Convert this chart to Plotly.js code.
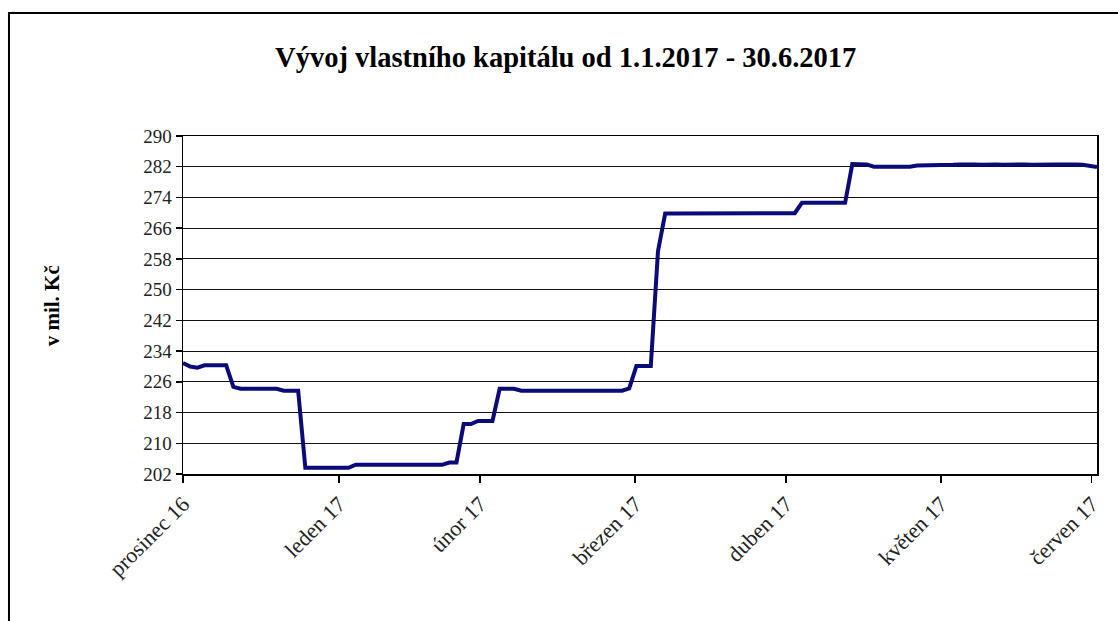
<!DOCTYPE html>
<html>
<head>
<meta charset="utf-8">
<script src="https://cdn.plot.ly/plotly-3.0.1.min.js"></script>
<style>
  html, body { margin: 0; padding: 0; background: #fff; }
  #chart { width: 1118px; height: 621px; }
</style>
</head>
<body>
<div id="chart"></div>
<script>
// Equity values (mil. Kč), one per observation day
const equity = [
  230.9, 230.0, 229.7, 230.3, 230.3, 230.3, 230.3, 224.7, 224.2, 224.2,
  224.2, 224.2, 224.2, 224.2, 223.7, 223.7, 223.7, 203.6, 203.6, 203.6,
  203.6, 203.6, 203.6, 203.6, 204.4, 204.4, 204.4, 204.4, 204.4, 204.4,
  204.4, 204.4, 204.4, 204.4, 204.4, 204.4, 204.4, 205.0, 205.0, 215.0,
  215.0, 215.8, 215.8, 215.8, 224.2, 224.2, 224.2, 223.7, 223.7, 223.7,
  223.7, 223.7, 223.7, 223.7, 223.7, 223.7, 223.7, 223.7, 223.7, 223.7,
  223.7, 223.7, 224.3, 230.1, 230.1, 230.1, 260.0, 269.8, 269.8, 269.8,
  269.8, 269.8, 269.8, 269.8, 269.8, 269.8, 269.8, 269.8, 269.8, 269.8,
  269.8, 269.8, 269.8, 269.8, 269.8, 269.9, 272.6, 272.6, 272.6, 272.6,
  272.6, 272.6, 272.6, 282.7, 282.7, 282.6, 282.0, 282.0, 282.0, 282.0,
  282.0, 282.0, 282.3, 282.3, 282.3, 282.3, 282.3, 282.5, 282.6, 282.7,
  282.6, 282.5, 282.6, 282.6, 282.5, 282.6, 282.7, 282.6, 282.5, 282.6,
  282.7, 282.6, 282.6, 282.7, 282.6, 282.5, 282.1, 281.9
];
const obsIndex = equity.map((_, i) => i);

// Category tick positions (observation index) and labels
const tickIndex = [0, 21.68, 41.28, 62.83, 83.78, 105.3, 126.26];
const tickLabels = ['prosinec 16', 'leden 17', 'únor 17', 'březen 17', 'duben 17', 'květen 17', 'červen 17'];

const yTicks = [202, 210, 218, 226, 234, 242, 250, 258, 266, 274, 282, 290];

const titleText = 'Vývoj vlastního kapitálu od 1.1.2017 - 30.6.2017';
const yTitleText = 'v mil. Kč';

const serif = 'Liberation Serif, Times New Roman, serif';

const trace = {
  x: obsIndex,
  y: equity,
  type: 'scatter',
  mode: 'lines',
  line: { color: '#0a0a78', width: 4 },
  hoverinfo: 'y'
};

const layout = {
  width: 1118,
  height: 621,
  margin: { l: 183, r: 21, t: 136, b: 147 },
  paper_bgcolor: '#fff',
  plot_bgcolor: '#fff',
  showlegend: false,
  font: { family: serif, size: 18, color: '#222' },
  title: {
    text: '<b>' + titleText + '</b>',
    font: { family: serif, size: 28.5, color: '#000' },
    xref: 'container', x: 0.506, xanchor: 'center',
    yref: 'container', y: 0.908, yanchor: 'middle'
  },
  xaxis: {
    range: [0, 127],
    tickmode: 'array',
    tickvals: tickIndex,
    ticktext: tickLabels,
    tickangle: -45,
    ticks: 'outside',
    ticklen: 7,
    tickwidth: 1.5,
    tickcolor: '#000',
    showgrid: false,
    zeroline: false,
    showline: true,
    linecolor: '#000',
    linewidth: 1.5,
    mirror: true,
    tickfont: { family: serif, size: 22, color: '#222' },
    fixedrange: true
  },
  yaxis: {
    range: [202, 290],
    tickmode: 'array',
    tickvals: yTicks,
    ticktext: yTicks.map(String),
    ticks: 'outside',
    ticklen: 6,
    tickwidth: 1.5,
    tickcolor: '#000',
    showgrid: true,
    gridcolor: '#111',
    gridwidth: 1,
    zeroline: false,
    showline: true,
    linecolor: '#000',
    linewidth: 1.5,
    mirror: true,
    tickfont: { family: serif, size: 19, color: '#222' },
    fixedrange: true
  },
  annotations: [{
    text: '<b>' + yTitleText + '</b>',
    xref: 'paper', yref: 'paper',
    x: -0.143, y: 0.497,
    xanchor: 'center', yanchor: 'middle',
    textangle: -90,
    showarrow: false,
    font: { family: serif, size: 21, color: '#000' }
  }],
  shapes: [{
    type: 'rect',
    xref: 'paper', yref: 'paper',
    x0: -0.1904, x1: 1.04,
    y0: -0.48, y1: 1.3639,
    line: { color: '#000', width: 2 },
    fillcolor: 'rgba(0,0,0,0)',
    layer: 'below'
  }]
};

Plotly.newPlot('chart', [trace], layout, { displayModeBar: false, staticPlot: true });
</script>
</body>
</html>
